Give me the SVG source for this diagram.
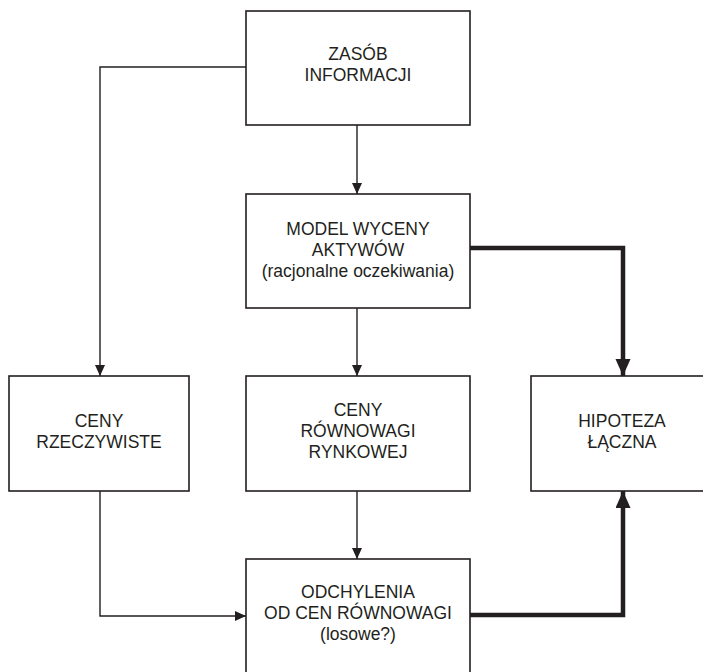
<svg xmlns="http://www.w3.org/2000/svg" width="703" height="672" viewBox="0 0 703 672">
<style>
.box{fill:#fff;stroke:#231f20;stroke-width:1.6}
.t{font-family:"Liberation Sans",Arial,sans-serif;font-size:17.5px;fill:#231f20;text-anchor:middle}
.thin{fill:none;stroke:#231f20;stroke-width:1.4}
.thick{fill:none;stroke:#231f20;stroke-width:4.5}
</style>
<defs>
<marker id="a" markerUnits="userSpaceOnUse" markerWidth="12" markerHeight="12" refX="11" refY="5" orient="auto">
<path d="M0,0 L11,5 L0,10 Z" fill="#231f20"/>
</marker>
<marker id="b" markerUnits="userSpaceOnUse" markerWidth="18" markerHeight="18" refX="17" refY="7.5" orient="auto">
<path d="M0,0 L17,7.5 L0,15 Z" fill="#231f20"/>
</marker>
</defs>
<g id="connectors">
<path class="thin" d="M246,67 H100 V376" marker-end="url(#a)"/>
<path class="thin" d="M357,125 V194" marker-end="url(#a)"/>
<path class="thin" d="M357,308 V376" marker-end="url(#a)"/>
<path class="thin" d="M357,491 V559" marker-end="url(#a)"/>
<path class="thin" d="M100,491 V616 H246" marker-end="url(#a)"/>
<path class="thick" d="M470,248 H623 V376" marker-end="url(#b)"/>
<path class="thick" d="M470,615 H623 V491" marker-end="url(#b)"/>
</g>
<g id="zasob">
<rect class="box" x="246" y="11" width="224" height="114"/>
<text class="t" x="358" y="60">ZASÓB</text>
<text class="t" x="358" y="81">INFORMACJI</text>
</g>
<g id="model">
<rect class="box" x="246" y="194" width="224" height="114"/>
<text class="t" x="358" y="235">MODEL WYCENY</text>
<text class="t" x="358" y="256">AKTYWÓW</text>
<text class="t" x="358" y="277">(racjonalne oczekiwania)</text>
</g>
<g id="ceny-rzeczywiste">
<rect class="box" x="9" y="376" width="180" height="115"/>
<text class="t" x="99" y="427">CENY</text>
<text class="t" x="99" y="448">RZECZYWISTE</text>
</g>
<g id="ceny-rownowagi">
<rect class="box" x="246" y="376" width="224" height="115"/>
<text class="t" x="358" y="416">CENY</text>
<text class="t" x="358" y="437">RÓWNOWAGI</text>
<text class="t" x="358" y="458">RYNKOWEJ</text>
</g>
<g id="hipoteza">
<rect class="box" x="531" y="376" width="190" height="115"/>
<text class="t" x="622" y="427">HIPOTEZA</text>
<text class="t" x="622" y="448">ŁĄCZNA</text>
</g>
<g id="odchylenia">
<rect class="box" x="246" y="559" width="224" height="120"/>
<text class="t" x="358" y="598">ODCHYLENIA</text>
<text class="t" x="358" y="619">OD CEN RÓWNOWAGI</text>
<text class="t" x="358" y="640">(losowe?)</text>
</g>
</svg>
